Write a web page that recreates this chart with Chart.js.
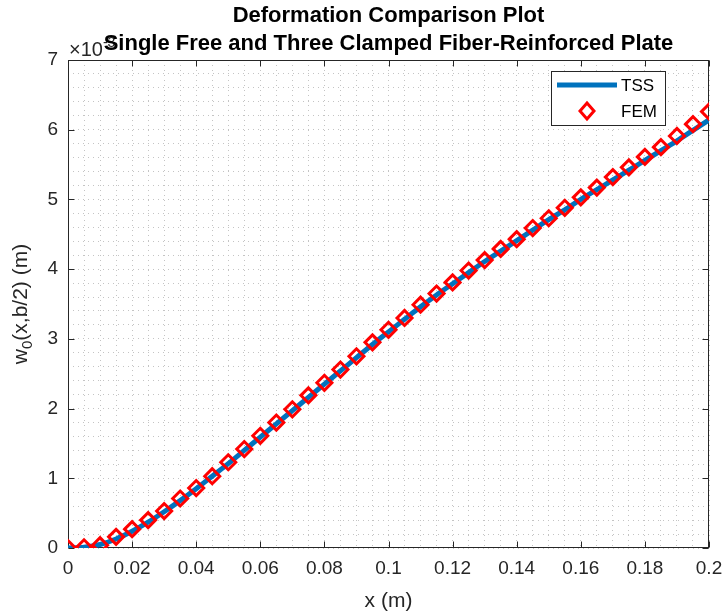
<!DOCTYPE html>
<html>
<head>
<meta charset="utf-8">
<script src="https://cdn.jsdelivr.net/npm/chart.js@4.4.1/dist/chart.umd.min.js"></script>
<style>
    body { margin: 0; background: #fff; }
    #contenedor { width: 725px; height: 615px; }
</style>
</head>
<body>
<div id="contenedor"><canvas id="graficoDeformacion" width="725" height="615"></canvas></div>
<script>
// posiciones x (m)
const posX = [0, 0.005, 0.01, 0.015, 0.02, 0.025, 0.03, 0.035, 0.04, 0.045,
    0.05, 0.055, 0.06, 0.065, 0.07, 0.075, 0.08, 0.085, 0.09, 0.095,
    0.1, 0.105, 0.11, 0.115, 0.12, 0.125, 0.13, 0.135, 0.14, 0.145,
    0.15, 0.155, 0.16, 0.165, 0.17, 0.175, 0.18, 0.185, 0.19, 0.195, 0.2];

// w0(x,b/2) en unidades de 1e-3 m
const femW = [0, 0.01, 0.04, 0.16, 0.27, 0.40, 0.53, 0.71, 0.86, 1.03,
    1.23, 1.42, 1.61, 1.80, 1.99, 2.19, 2.37, 2.56, 2.75, 2.95,
    3.13, 3.30, 3.49, 3.65, 3.81, 3.98, 4.13, 4.29, 4.43, 4.59,
    4.73, 4.88, 5.03, 5.17, 5.32, 5.46, 5.61, 5.75, 5.91, 6.08, 6.26];

const tssW = [0, 0.01, 0.05, 0.13, 0.24, 0.37, 0.52, 0.68, 0.85, 1.03,
    1.21, 1.40, 1.59, 1.78, 1.97, 2.16, 2.35, 2.54, 2.73, 2.92,
    3.10, 3.28, 3.46, 3.63, 3.79, 3.95, 4.11, 4.26, 4.41, 4.56,
    4.71, 4.85, 5.00, 5.14, 5.28, 5.42, 5.56, 5.70, 5.84, 5.99, 6.14];

const xTicks = [0, 0.02, 0.04, 0.06, 0.08, 0.1, 0.12, 0.14, 0.16, 0.18, 0.2];
const yTicks = [0, 1, 2, 3, 4, 5, 6, 7];

const tituloLineas = ['Deformation Comparison Plot', 'Single Free and Three Clamped Fiber-Reinforced Plate'];
const nombres = ['TSS', 'FEM'];

const FUENTE = '"Liberation Sans", Arial, Helvetica, sans-serif';
const GRIS = '#262626';

const esMayor = (lista, v) => lista.some(t => Math.abs(t - v) < 1e-9);

// caja, ticks hacia dentro, leyenda y textos al estilo MATLAB
const ejesMatlab = {
    id: 'ejesMatlab',
    beforeDatasetsDraw(chart) {
        const { ctx, chartArea: a, scales: { x, y } } = chart;
        ctx.save();
        ctx.strokeStyle = GRIS;
        ctx.lineWidth = 1;
        const l = Math.round(a.left) + 0.5, r = Math.round(a.right) - 0.5;
        const t = Math.round(a.top) + 0.5, b = Math.round(a.bottom) - 0.5;
        ctx.strokeRect(l, t, r - l, b - t);
        ctx.beginPath();
        xTicks.forEach(v => {
            const px = Math.round(x.getPixelForValue(v)) + 0.5;
            ctx.moveTo(px, b); ctx.lineTo(px, b - 6);
            ctx.moveTo(px, t); ctx.lineTo(px, t + 6);
        });
        yTicks.forEach(v => {
            const py = Math.round(y.getPixelForValue(v)) + 0.5;
            ctx.moveTo(l, py); ctx.lineTo(l + 6, py);
            ctx.moveTo(r, py); ctx.lineTo(r - 6, py);
        });
        ctx.stroke();
        ctx.restore();
    },
    afterDraw(chart) {
        const { ctx, chartArea: a } = chart;
        const cx = (a.left + a.right) / 2;
        const cy = (a.top + a.bottom) / 2;
        ctx.save();

        // exponente del eje y
        ctx.fillStyle = GRIS;
        ctx.textBaseline = 'alphabetic';
        ctx.textAlign = 'left';
        ctx.font = '20px ' + FUENTE;
        ctx.fillText('\u00d710', a.left + 1, a.top - 4);
        const wx = ctx.measureText('\u00d710').width;
        ctx.font = '14px ' + FUENTE;
        ctx.fillText('-3', a.left + 1 + wx, a.top - 13);

        // titulo
        ctx.fillStyle = '#000';
        ctx.textAlign = 'center';
        ctx.font = 'bold 22px ' + FUENTE;
        ctx.fillText(tituloLineas[0], cx, 22);
        ctx.fillText(tituloLineas[1], cx, 50);

        // etiqueta eje x
        ctx.fillStyle = GRIS;
        ctx.font = '21px ' + FUENTE;
        ctx.fillText('x (m)', cx, 607);

        // etiqueta eje y con subindice
        ctx.translate(27, cy);
        ctx.rotate(-Math.PI / 2);
        ctx.textAlign = 'left';
        const f1 = '21px ' + FUENTE, f2 = '15px ' + FUENTE;
        ctx.font = f1; const w1 = ctx.measureText('w').width;
        const w3 = ctx.measureText('(x,b/2) (m)').width;
        ctx.font = f2; const w2 = ctx.measureText('0').width;
        let px = -(w1 + w2 + w3) / 2;
        ctx.font = f1; ctx.fillText('w', px, 0); px += w1;
        ctx.font = f2; ctx.fillText('0', px, 5); px += w2;
        ctx.font = f1; ctx.fillText('(x,b/2) (m)', px, 0);
        ctx.setTransform(1, 0, 0, 1, 0, 0);

        // leyenda
        const lx = 551, ly = 71, lw = 114, lh = 54;
        ctx.fillStyle = '#fff';
        ctx.fillRect(lx, ly, lw, lh);
        ctx.strokeStyle = GRIS;
        ctx.lineWidth = 1;
        ctx.strokeRect(lx + 0.5, ly + 0.5, lw, lh);
        const dsTss = chart.data.datasets[1], dsFem = chart.data.datasets[0];
        ctx.strokeStyle = dsTss.borderColor;
        ctx.lineWidth = dsTss.borderWidth;
        ctx.beginPath();
        ctx.moveTo(lx + 6, ly + 14); ctx.lineTo(lx + 66, ly + 14);
        ctx.stroke();
        ctx.strokeStyle = dsFem.borderColor;
        ctx.lineWidth = dsFem.borderWidth;
        const dx = lx + 36, dy = ly + 40;
        ctx.beginPath();
        ctx.moveTo(dx, dy - 8); ctx.lineTo(dx + 7, dy); ctx.lineTo(dx, dy + 8); ctx.lineTo(dx - 7, dy);
        ctx.closePath();
        ctx.stroke();
        ctx.fillStyle = '#000';
        ctx.font = '17px ' + FUENTE;
        ctx.textAlign = 'left';
        ctx.textBaseline = 'middle';
        ctx.fillText(nombres[0], lx + 70, ly + 15);
        ctx.fillText(nombres[1], lx + 70, ly + 41);
        ctx.restore();
    }
};

const ctx = document.getElementById('graficoDeformacion').getContext('2d');
const graficoDeformacion = new Chart(ctx, {
    type: 'scatter',
    data: {
        datasets: [{
            label: nombres[1],
            data: posX.map((v, i) => ({ x: v, y: femW[i] })),
            showLine: false,
            pointStyle: 'rectRot',
            pointRadius: 7.5,
            pointBorderWidth: 3,
            borderColor: '#ff0000',
            borderWidth: 3,
            pointBackgroundColor: 'rgba(0,0,0,0)',
            order: 0
        }, {
            label: nombres[0],
            data: posX.map((v, i) => ({ x: v, y: tssW[i] })),
            showLine: true,
            borderColor: '#0072BD',
            borderWidth: 5,
            pointRadius: 0,
            tension: 0.3,
            order: 1
        }]
    },
    options: {
        responsive: false,
        animation: false,
        layout: { padding: { top: 60, right: 16, left: 0, bottom: 0 } },
        plugins: {
            legend: { display: false },
            tooltip: { enabled: false }
        },
        scales: {
            x: {
                type: 'linear',
                min: 0,
                max: 0.2,
                afterFit: s => { s.height = 67; s.paddingLeft = 0; s.paddingRight = 0; },
                border: { display: false, dash: [1, 4] },
                grid: { color: '#c4c4c4', lineWidth: 1, drawTicks: false },
                ticks: {
                    stepSize: 0.005,
                    autoSkip: false,
                    maxRotation: 0,
                    padding: 9,
                    color: GRIS,
                    font: { family: FUENTE, size: 19 },
                    callback: v => esMayor(xTicks, v) ? String(Number(v.toFixed(3))) : ''
                }
            },
            y: {
                min: 0,
                max: 7,
                afterFit: s => { s.width = 68; s.paddingTop = 0; s.paddingBottom = 0; },
                border: { display: false, dash: [1, 4] },
                grid: { color: '#c4c4c4', lineWidth: 1, drawTicks: false },
                ticks: {
                    stepSize: 0.2,
                    autoSkip: false,
                    padding: 10,
                    color: GRIS,
                    font: { family: FUENTE, size: 19 },
                    callback: v => esMayor(yTicks, v) ? String(Math.round(v)) : ''
                }
            }
        }
    },
    plugins: [ejesMatlab]
});
</script>
</body>
</html>
